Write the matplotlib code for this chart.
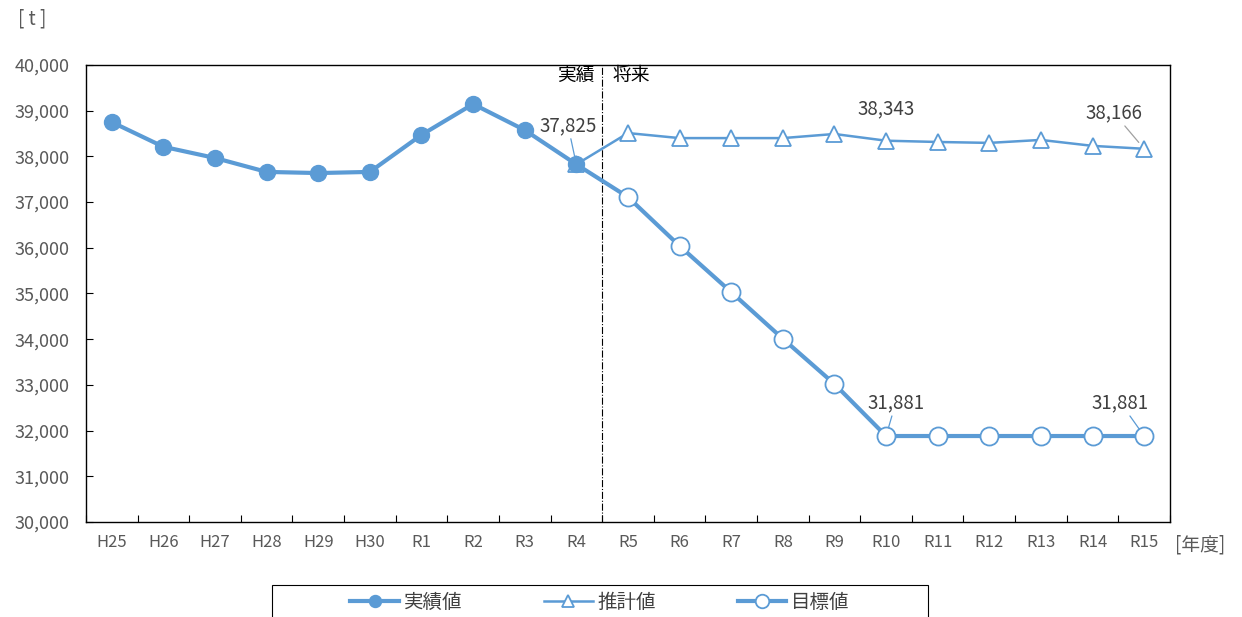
import matplotlib
matplotlib.use('Agg')
import matplotlib.pyplot as plt
from matplotlib.patches import Rectangle
from matplotlib.ticker import FuncFormatter, FixedLocator

# 年度
years = ['H25', 'H26', 'H27', 'H28', 'H29', 'H30', 'R1', 'R2', 'R3', 'R4',
         'R5', 'R6', 'R7', 'R8', 'R9', 'R10', 'R11', 'R12', 'R13', 'R14', 'R15']

# 実績値 H25〜R4
actual = [38750, 38210, 37965, 37660, 37635, 37660, 38470, 39145, 38575, 37825]
# 推計値 R4〜R15
estimate = [37825, 38510, 38400, 38400, 38400, 38490, 38343, 38315, 38295, 38360, 38230, 38166]
# 目標値 R4〜R15
target = [37825, 37110, 36040, 35030, 34010, 33020, 31881, 31881, 31881, 31881, 31881, 31881]

plt.rcParams['font.family'] = ['Noto Sans CJK JP', 'DejaVu Sans']

blue = '#5B9BD5'
gray = '#595959'

fig = plt.figure(figsize=(12.42, 6.17), dpi=100)
ax = fig.add_axes([0.0692, 0.154, 0.8728, 0.7407])

xa = [i + 0.5 for i in range(len(actual))]
xe = [i + 9.5 for i in range(len(estimate))]
xt = [i + 9.5 for i in range(len(target))]

ax.plot(xt, target, color=blue, lw=3, marker='o', ms=13, mfc='white', mec=blue, mew=1.3,
        markevery=list(range(1, len(target))), label='目標値', zorder=3)
ax.plot(xe, estimate, color=blue, lw=1.8, marker='^', ms=11, mfc='white', mec=blue, mew=1.3,
        label='推計値', zorder=4)
ax.plot(xa, actual, color=blue, lw=3, marker='o', ms=11.5, mfc=blue, mec=blue,
        label='実績値', zorder=5)

# 実績／将来 の区切り
ax.axvline(10, color='black', lw=0.8, ls='-.', zorder=2)
ax.text(9.85, 39780, '実績', ha='right', va='center', fontsize=13.5, color='black')
ax.text(10.2, 39780, '将来', ha='left', va='center', fontsize=13.5, color='black')

# データラベル
lab = dict(fontsize=13.5, color='#404040', ha='center', va='center', textcoords='offset points')
arr = dict(arrowstyle='-', color=blue, lw=0.9, shrinkA=0, shrinkB=6)
ax.annotate('37,825', (xa[-1], actual[-1]), xytext=(-6, 28), arrowprops=arr, **lab)
ax.annotate('38,343', (xe[6], estimate[6]), xytext=(0, 23), **lab)
ax.annotate('38,166', (xe[-1], estimate[-1]), xytext=(-22, 26),
            arrowprops=dict(arr, color='#A0A0A0'), **lab)
ax.annotate('31,881', (xt[6], target[6]), xytext=(7, 24), arrowprops=arr, **lab)
ax.annotate('31,881', (xt[-1], target[-1]), xytext=(-17, 24), arrowprops=arr, **lab)

ax.set_xlim(0, len(years))
ax.set_ylim(30000, 40000)
ax.set_yticks(range(30000, 40001, 1000))
ax.yaxis.set_major_formatter(FuncFormatter(lambda v, p: f'{int(v):,}'))
ax.xaxis.set_major_locator(FixedLocator(range(len(years) + 1)))
ax.xaxis.set_major_formatter(FuncFormatter(lambda v, p: ''))
ax.xaxis.set_minor_locator(FixedLocator([i + 0.5 for i in range(len(years))]))
ax.set_xticklabels(years, minor=True)
ax.tick_params(axis='x', which='major', direction='in', length=5, width=0.8)
ax.tick_params(axis='x', which='minor', length=0, pad=9, labelsize=12, labelcolor=gray)
ax.tick_params(axis='y', direction='in', length=5, width=0.8, pad=12, labelsize=13, labelcolor=gray)
for s in ax.spines.values():
    s.set_linewidth(1.0)

fig.text(0.966, 0.116, '[年度]', ha='center', va='center', fontsize=13.5, color=gray)
fig.text(0.026, 0.970, '[ t ]', ha='center', va='center', fontsize=13.5, color=gray)

# 凡例（枠は下端で切れる）
W, H = 1242, 617
fig.patches.append(Rectangle((272 / W, -0.02), (928 - 272) / W, 0.02 + (H - 585) / H,
                             transform=fig.transFigure, fill=False, edgecolor='black', lw=0.8))
h, l = ax.get_legend_handles_labels()
order = [2, 1, 0]
leg = fig.legend([h[i] for i in order], [l[i] for i in order], ncol=3,
                 loc='center', bbox_to_anchor=(600 / W, 1 - 602 / H),
                 bbox_transform=fig.transFigure, borderaxespad=0,
                 frameon=False, fontsize=14,
                 handlelength=2.5, handletextpad=0.25, columnspacing=4.2,
                 borderpad=0.3, markerscale=0.75)
for t in leg.get_texts():
    t.set_color('#404040')

fig.savefig('out.png', dpi=100)
